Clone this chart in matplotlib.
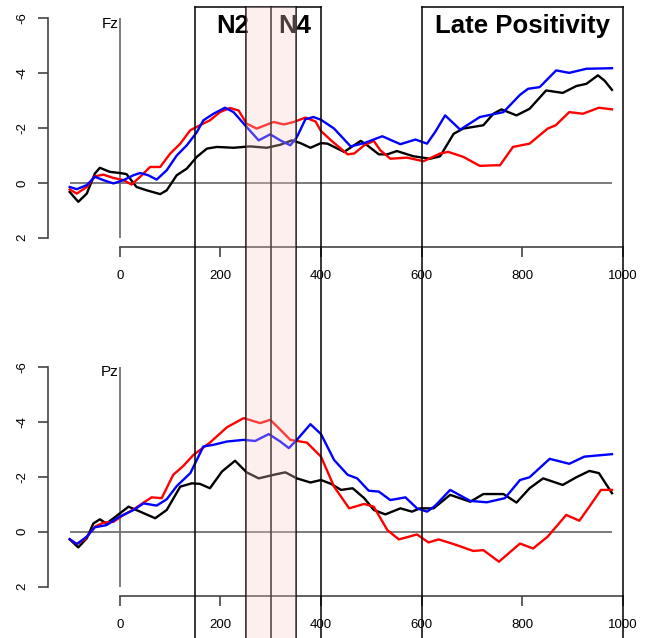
import numpy as np
import matplotlib.pyplot as plt
from matplotlib.transforms import blended_transform_factory

plt.rcParams['font.family'] = ['Liberation Sans', 'DejaVu Sans']

# Fz (tempo em ms, amplitude em uV)
fz_black_t = [-100, -83, -66, -50, -40, -20, 0, 13, 33, 53, 80, 93, 113, 133, 153, 173, 193, 226, 259, 292,
              319, 342, 359, 379, 400, 413, 446, 479, 492, 515, 532, 551, 584, 617, 637, 664, 683, 723, 743, 759,
              789, 815, 848, 881, 908, 928, 951, 964, 979]
fz_black_v = [0.33, 0.69, 0.39, -0.34, -0.55, -0.4, -0.36, -0.32, 0.15, 0.27, 0.41, 0.27, -0.28, -0.52, -0.95,
              -1.25, -1.31, -1.28, -1.33, -1.28, -1.39, -1.55, -1.45, -1.28, -1.45, -1.43, -1.13, -1.53, -1.37,
              -1.04, -1.04, -1.16, -0.97, -0.88, -0.97, -1.79, -1.98, -2.1, -2.52, -2.68, -2.46, -2.7, -3.37,
              -3.28, -3.53, -3.61, -3.92, -3.73, -3.39]

fz_red_t = [-100, -86, -66, -50, -33, -13, 7, 23, 40, 60, 80, 100, 120, 140, 159, 179, 199, 219, 236, 252,
            272, 306, 326, 346, 369, 389, 400, 420, 453, 466, 486, 505, 518, 538, 571, 604, 637, 653, 683, 716,
            743, 756, 782, 815, 851, 867, 894, 921, 953, 979]
fz_red_v = [0.24, 0.39, 0.15, -0.24, -0.3, -0.18, -0.1, 0.06, -0.22, -0.58, -0.58, -1.07, -1.43, -1.92, -2.1,
            -2.28, -2.58, -2.73, -2.64, -2.16, -1.98, -2.22, -2.13, -2.22, -2.38, -2.24, -1.89, -1.55, -1.04,
            -1.07, -1.37, -1.53, -1.19, -0.88, -0.92, -0.79, -1.07, -1.13, -0.95, -0.62, -0.64, -0.64, -1.31,
            -1.43, -1.98, -2.1, -2.58, -2.52, -2.74, -2.68]

fz_blue_t = [-100, -86, -66, -50, -33, -13, 7, 27, 40, 56, 73, 93, 113, 133, 153, 166, 186, 209, 226, 249,
             276, 299, 319, 339, 352, 369, 385, 400, 426, 459, 486, 522, 558, 588, 611, 627, 647, 677, 716, 763,
             796, 812, 835, 868, 894, 928, 979]
fz_blue_v = [0.15, 0.23, 0.08, -0.22, -0.1, 0.02, -0.1, -0.28, -0.36, -0.28, -0.12, -0.46, -1.0, -1.37, -1.85,
             -2.28, -2.52, -2.74, -2.58, -2.1, -1.55, -1.77, -1.55, -1.37, -1.67, -2.32, -2.4, -2.3, -1.98,
             -1.33, -1.45, -1.7, -1.41, -1.58, -1.43, -1.85, -2.46, -1.94, -2.4, -2.58, -3.21, -3.43, -3.49,
             -4.1, -4.01, -4.16, -4.18]

# Pz
pz_black_t = [-100, -83, -66, -53, -40, -27, -7, 17, 40, 70, 93, 120, 143, 159, 179, 203, 229, 252, 276, 306,
              329, 352, 379, 400, 420, 440, 463, 486, 505, 528, 558, 581, 597, 624, 657, 697, 723, 763, 789, 815,
              842, 881, 908, 934, 953, 979]
pz_black_v = [0.28, 0.57, 0.24, -0.3, -0.45, -0.3, -0.57, -0.91, -0.73, -0.49, -0.79, -1.64, -1.76, -1.74,
              -1.58, -2.19, -2.58, -2.16, -1.94, -2.07, -2.16, -1.94, -1.79, -1.88, -1.74, -1.52, -1.58, -1.22,
              -0.79, -0.63, -0.85, -0.73, -0.85, -0.85, -1.34, -1.09, -1.37, -1.37, -1.06, -1.58, -1.94, -1.7,
              -1.98, -2.21, -2.13, -1.4]

pz_red_t = [-100, -86, -70, -50, -33, -13, 7, 27, 47, 63, 83, 106, 126, 146, 179, 213, 246, 279, 299, 319,
            339, 372, 400, 426, 456, 486, 505, 532, 555, 591, 614, 634, 664, 703, 723, 754, 796, 822, 851, 888,
            914, 934, 957, 979]
pz_red_v = [0.28, 0.45, 0.28, -0.18, -0.33, -0.36, -0.61, -0.81, -1.06, -1.25, -1.22, -2.07, -2.39, -2.79,
            -3.24, -3.8, -4.13, -3.95, -4.07, -3.71, -3.34, -3.24, -2.73, -1.64, -0.85, -1.01, -0.91, -0.06,
            0.28, 0.1, 0.39, 0.28, 0.45, 0.7, 0.67, 1.09, 0.43, 0.61, 0.18, -0.61, -0.4, -0.91, -1.52, -1.52]

pz_blue_t = [-100, -86, -66, -50, -27, 0, 27, 47, 73, 93, 113, 140, 166, 186, 213, 246, 269, 296, 319, 336,
             352, 379, 400, 426, 453, 472, 495, 515, 538, 568, 591, 611, 627, 657, 697, 730, 766, 796, 815, 855,
             894, 924, 979]
pz_blue_v = [0.27, 0.45, 0.18, -0.16, -0.24, -0.55, -0.79, -1.03, -0.95, -1.18, -1.66, -2.13, -3.1, -3.16,
             -3.28, -3.34, -3.3, -3.55, -3.28, -3.04, -3.34, -3.91, -3.55, -2.61, -2.07, -1.94, -1.49, -1.46,
             -1.15, -1.25, -0.85, -0.73, -0.94, -1.52, -1.12, -1.07, -1.22, -1.88, -1.98, -2.65, -2.47, -2.73,
             -2.82]

x_ticks = [0, 200, 400, 600, 800, 1000]
y_ticks = [-6, -4, -2, 0, 2]
janelas = [150, 250, 300, 350, 400, 600, 1000]   # limites das janelas
faixa = (250, 350)                                # janela sombreada
rotulos = [("N2", 225), ("N4", 348), ("Late Positivity", 800)]

xlim = (-143.2, 1023.2)
ylim = (2.32, -6.32)   # eixo invertido (negativo pra cima)
axcor = "#444444"

fig = plt.figure(figsize=(6.5, 6.38), dpi=100)

left, width = 48 / 650, (634.2 - 48) / 650
paineis = [
    ("Fz", [left, 0.6136, width, 0.3715],
     [(fz_black_t, fz_black_v, "black"), (fz_red_t, fz_red_v, "red"), (fz_blue_t, fz_blue_v, "blue")]),
    ("Pz", [left, 0.0666, width, 0.3724],
     [(pz_black_t, pz_black_v, "black"), (pz_red_t, pz_red_v, "red"), (pz_blue_t, pz_blue_v, "blue")]),
]

for nome, pos, curvas in paineis:
    ax = fig.add_axes(pos)
    ax.set_xlim(*xlim)
    ax.set_ylim(*ylim)
    ax.patch.set_visible(False)

    t_all = curvas[0][0]
    ax.hlines(0, t_all[0], t_all[-1], color="#666666", lw=1.2)
    ax.vlines(0, y_ticks[0], y_ticks[-1], color="#666666", lw=1.2)

    for t, v, cor in curvas:
        ax.plot(t, v, color=cor, lw=1.7)

    ax.text(-2, -5.8, nome, ha="right", va="center", fontsize=11)

    for s in ["top", "right"]:
        ax.spines[s].set_visible(False)
    ax.spines["left"].set_bounds(y_ticks[0], y_ticks[-1])
    ax.spines["bottom"].set_bounds(x_ticks[0], x_ticks[-1])
    for s in ["left", "bottom"]:
        ax.spines[s].set_color(axcor)
        ax.spines[s].set_linewidth(1.2)

    ax.set_xticks(x_ticks)
    ax.set_yticks(y_ticks)
    ax.set_yticklabels([str(v) for v in y_ticks], rotation=90, va="center")
    ax.tick_params(axis="x", length=7, width=1.2, color=axcor, pad=10, labelsize=9.5)
    ax.tick_params(axis="y", length=7, width=1.2, color=axcor, pad=7, labelsize=9.5)

# camada de cima: janelas de tempo que cruzam os dois painéis
top = (638 - 6.7) / 638
ov = fig.add_axes([left, 0, width, top])
ov.set_xlim(*xlim)
ov.set_ylim(0, 1)
ov.axis("off")

for xv in janelas:
    ov.plot([xv, xv], [0, 1], color="black", lw=1.1, clip_on=False)
ov.plot([janelas[0], janelas[4]], [1, 1], color="black", lw=1.1, clip_on=False)
ov.plot([janelas[5], janelas[6]], [1, 1], color="black", lw=1.1, clip_on=False)

trans = blended_transform_factory(ov.transData, fig.transFigure)
for txt, xv in rotulos:
    ov.text(xv, (638 - 33) / 638, txt, transform=trans, ha="center", va="baseline",
            fontsize=18.5, fontweight="bold")

ov.axvspan(faixa[0], faixa[1], color=(0.97, 0.80, 0.78), alpha=0.3, lw=0, zorder=10)

plt.savefig("out.png", dpi=100)
